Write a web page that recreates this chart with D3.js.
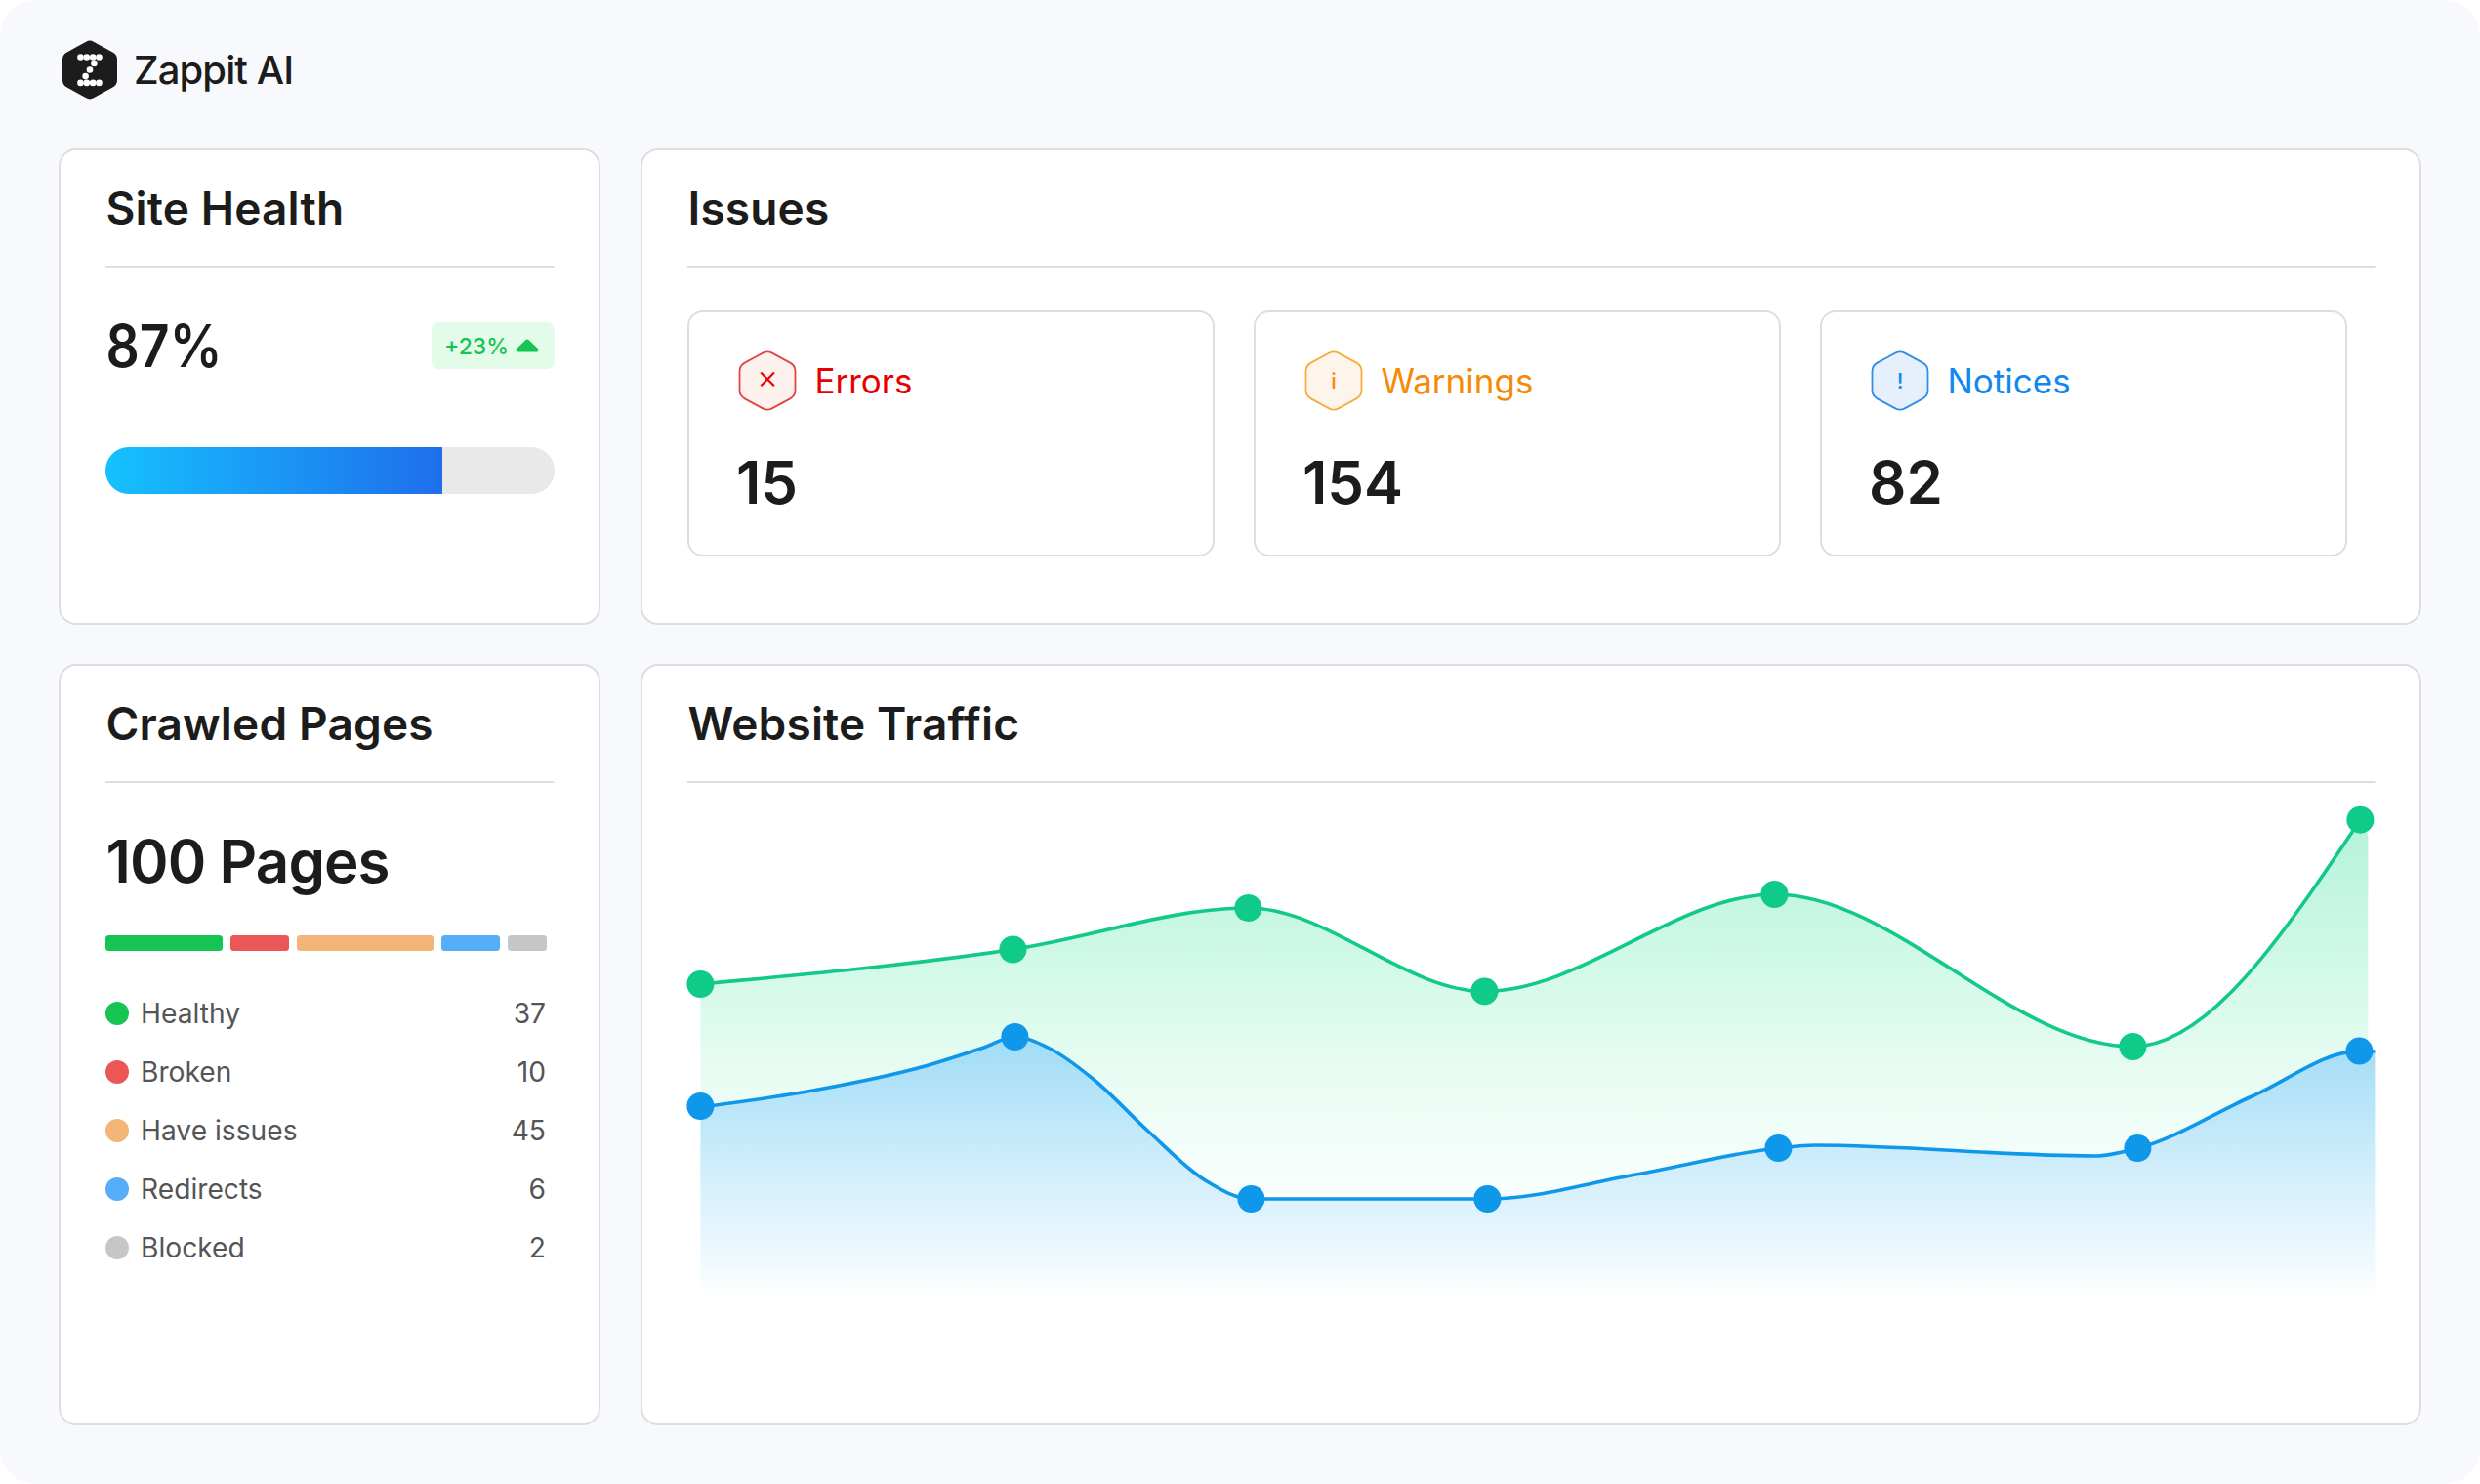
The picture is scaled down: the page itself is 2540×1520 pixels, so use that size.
<!DOCTYPE html>
<html>
<head>
<meta charset="utf-8">
<title>Zappit AI</title>
<script src="https://cdn.jsdelivr.net/npm/d3@7"></script>
<style>
  html, body { margin: 0; background: #fff; }
  svg { display: block; }
  text { font-family: Inter, sans-serif; fill: #1c1c1c; }
  .title { font-size: 46px; font-weight: 600; letter-spacing: 0.15px; }
  .big { font-size: 60px; font-weight: 600; }
</style>
</head>
<body>
<div id="chart"></div>
<script>
// site health
const healthLabel = "87%";
const healthChange = "+23%";
const healthBarValue = 75; // the bar is drawn shorter than the label says

// issues
const issueNames = ["Errors", "Warnings", "Notices"];
const issueCounts = [15, 154, 82];
const issueGlyphs = ["×", "i", "!"];

// crawled pages
const pageCategories = ["Healthy", "Broken", "Have issues", "Redirects", "Blocked"];
const pageCounts = [37, 10, 45, 6, 2];
const pageShares = [30, 15, 35, 15, 10]; // segment lengths as drawn
const pageColors = ["#16c454", "#eb5757", "#f2b577", "#56adf8", "#c6c6c6"];

// website traffic, the dots
const greenX = [0, 320, 561, 803, 1100, 1467, 1700];
const greenY = [315, 350.5, 393, 307.6, 407, 251, 483.3];
const blueX = [0, 322, 564, 806, 1104, 1472, 1699];
const blueY = [190, 261, 95, 95, 147, 147, 246.4];

// website traffic, the blue curve
const blueCurveX = [0, 115, 230, 290, 322, 356, 402, 459, 517, 564, 806, 958, 1104, 1141, 1428, 1472, 1589, 1699, 1715];
const blueCurveY = [189, 206, 231, 250, 261, 250, 218, 164, 114, 95, 95, 120, 147, 150, 139, 147, 200, 246.4, 246];

const width = 2540, height = 1520;
const ink = "#1c1c1c", line = "#dddee2";

const svg = d3.select("#chart").append("svg")
    .attr("width", width)
    .attr("height", height)
    .attr("viewBox", `0 0 ${width} ${height}`);
const defs = svg.append("defs");

svg.append("rect")
    .attr("width", width).attr("height", height)
    .attr("rx", 36)
    .attr("fill", "#f8f9fd");

// pointy-top hexagon with rounded corners
function hexPath(w, h, r) {
    const pts = [[0, -h / 2], [w / 2, -h / 4], [w / 2, h / 4], [0, h / 2], [-w / 2, h / 4], [-w / 2, -h / 4]];
    const p = d3.path();
    p.moveTo((pts[5][0] + pts[0][0]) / 2, (pts[5][1] + pts[0][1]) / 2);
    pts.forEach((pt, i) => {
        const next = pts[(i + 1) % 6];
        p.arcTo(pt[0], pt[1], next[0], next[1], r);
    });
    p.closePath();
    return p.toString();
}

function card(x, y, w, h, title) {
    svg.append("rect")
        .attr("x", x).attr("y", y).attr("width", w).attr("height", h)
        .attr("rx", 17)
        .attr("fill", "#fff")
        .attr("stroke", line)
        .attr("stroke-width", 2);
    svg.append("text")
        .attr("class", "title")
        .attr("x", x + 47.5)
        .attr("y", y + 76.5)
        .text(title);
    svg.append("line")
        .attr("x1", x + 47).attr("x2", x + w - 46.5)
        .attr("y1", y + 120).attr("y2", y + 120)
        .attr("stroke", line)
        .attr("stroke-width", 2);
}

// logo
const logo = svg.append("g").attr("transform", "translate(92,71.5)");
logo.append("path").attr("d", hexPath(56, 62, 8)).attr("fill", ink);
const logoDots = [[-9.5, -13], [-3.2, -13], [3.2, -13], [9.5, -13], [4.4, -6.6], [0, 0], [-4.4, 6.6], [-9.5, 13.4], [-3.2, 13.4], [3.2, 13.4], [9.5, 13.4]];
logo.selectAll("circle").data(logoDots).join("circle")
    .attr("cx", d => d[0]).attr("cy", d => d[1])
    .attr("r", 3.3)
    .attr("fill", "#fff");
svg.append("text")
    .attr("x", 137).attr("y", 86)
    .style("font-size", "40px").style("font-weight", 500)
    .style("letter-spacing", "-0.9px")
    .text("Zappit AI");

card(61, 153, 553, 486, "Site Health");
card(657, 153, 1822, 486, "Issues");
card(61, 681, 553, 778, "Crawled Pages");
card(657, 681, 1822, 778, "Website Traffic");

// site health
svg.append("text").attr("class", "big")
    .attr("x", 108.5).attr("y", 376)
    .attr("textLength", 119).attr("lengthAdjust", "spacingAndGlyphs")
    .text(healthLabel);
svg.append("rect")
    .attr("x", 442).attr("y", 330).attr("width", 126).attr("height", 48)
    .attr("rx", 8)
    .attr("fill", "#e3fbe9");
svg.append("text")
    .attr("x", 455).attr("y", 362.5)
    .style("font-size", "23px").style("font-weight", 500).style("fill", "#16c454")
    .text(healthChange);
svg.append("path")
    .attr("d", "M540,349.5 L549.5,358.5 L530.5,358.5 Z")
    .attr("fill", "#16c454")
    .attr("stroke", "#16c454")
    .attr("stroke-width", 4)
    .attr("stroke-linejoin", "round");

const healthX = d3.scaleLinear().domain([0, 100]).range([108, 568]);
const healthGrad = defs.append("linearGradient").attr("id", "healthGrad");
healthGrad.append("stop").attr("offset", 0).attr("stop-color", "#15c1fe");
healthGrad.append("stop").attr("offset", 1).attr("stop-color", "#1f6eec");
defs.append("clipPath").attr("id", "trackClip").append("rect")
    .attr("x", 108).attr("y", 458).attr("width", 460).attr("height", 48).attr("rx", 24);
const track = svg.append("g").attr("clip-path", "url(#trackClip)");
track.append("rect")
    .attr("x", healthX(0)).attr("y", 458)
    .attr("width", healthX(100) - healthX(0)).attr("height", 48)
    .attr("fill", "#e9e9e9");
track.append("rect")
    .attr("x", healthX(0)).attr("y", 458)
    .attr("width", healthX(healthBarValue) - healthX(0)).attr("height", 48)
    .attr("fill", "url(#healthGrad)");

// issues
const issueColors = ["#e80000", "#f58a07", "#1287ee"];
const issueFills = ["#fcf1ec", "#fdf4ec", "#e6effc"];
const issueEdges = ["#e04545", "#f5ad3c", "#2f8fe8"];
const issueBand = d3.scaleBand().domain(issueNames).range([705, 2445]).paddingInner(0).paddingOuter(0);
const issue = svg.selectAll(".issue").data(issueNames).join("g")
    .attr("class", "issue")
    .attr("transform", d => `translate(${issueBand(d)},319)`);
issue.append("rect")
    .attr("width", 538).attr("height", 250)
    .attr("rx", 15)
    .attr("fill", "#fff")
    .attr("stroke", line)
    .attr("stroke-width", 2);
issue.append("path")
    .attr("transform", "translate(81,71)")
    .attr("d", hexPath(57, 62, 10))
    .attr("fill", (d, i) => issueFills[i])
    .attr("stroke", (d, i) => issueEdges[i])
    .attr("stroke-width", 1.8);
issue.append("text")
    .attr("x", 81).attr("y", 79)
    .attr("text-anchor", "middle")
    .style("font-size", (d, i) => i === 0 ? "34px" : "22px")
    .style("font-weight", (d, i) => i === 0 ? 300 : 500)
    .style("fill", (d, i) => issueColors[i])
    .text((d, i) => issueGlyphs[i]);
issue.append("text")
    .attr("x", 129.5).attr("y", 84)
    .style("font-size", "35px")
    .style("fill", (d, i) => issueColors[i])
    .text(d => d);
issue.append("text")
    .attr("class", "big")
    .attr("x", 49).attr("y", 197)
    .text((d, i) => issueCounts[i]);

// crawled pages
svg.append("text").attr("class", "big")
    .attr("x", 108.5).attr("y", 904)
    .style("letter-spacing", "-0.9px")
    .text("100 Pages");

const gap = 2;
const shareX = d3.scaleLinear()
    .domain([0, d3.sum(pageShares) + gap * pageShares.length])
    .range([108, 568]);
let used = 0;
const segments = pageShares.map(s => {
    const seg = { start: used, end: used + s };
    used += s + gap;
    return seg;
});
svg.selectAll(".segment").data(segments).join("rect")
    .attr("class", "segment")
    .attr("x", d => shareX(d.start))
    .attr("y", 958)
    .attr("width", d => shareX(d.end) - shareX(d.start))
    .attr("height", 16)
    .attr("rx", 3.5)
    .attr("fill", (d, i) => pageColors[i]);

const legendY = d3.scalePoint().domain(pageCategories).range([1038, 1278]);
const legend = svg.selectAll(".legend").data(pageCategories).join("g")
    .attr("class", "legend")
    .attr("transform", d => `translate(0,${legendY(d)})`);
legend.append("circle")
    .attr("cx", 120).attr("r", 12)
    .attr("fill", (d, i) => pageColors[i]);
legend.append("text")
    .attr("x", 144).attr("y", 9.5)
    .style("font-size", "28.2px").style("fill", "#555558")
    .text(d => d);
legend.append("text")
    .attr("x", 559).attr("y", 9.5)
    .attr("text-anchor", "end")
    .style("font-size", "28.2px").style("fill", "#555558")
    .text((d, i) => pageCounts[i]);

// website traffic
const xScale = d3.scaleLinear().domain([0, 1700]).range([717.4, 2417.4]);
const yScale = d3.scaleLinear().domain([0, 500]).range([1323, 823]);

function gradient(id, stops) {
    const g = defs.append("linearGradient")
        .attr("id", id)
        .attr("gradientUnits", "userSpaceOnUse")
        .attr("x1", 0).attr("x2", 0)
        .attr("y1", stops[0][0]).attr("y2", stops[stops.length - 1][0]);
    const span = stops[stops.length - 1][0] - stops[0][0];
    stops.forEach(s => g.append("stop")
        .attr("offset", (s[0] - stops[0][0]) / span)
        .attr("stop-color", s[1]));
}
gradient("greenFill", [[850, "#b6f3dc"], [1000, "#d4fae9"], [1100, "#e8fcf3"], [1200, "#f6fefb"], [1290, "#ffffff"]]);
gradient("blueFill", [[1062, "#9fdcf7"], [1200, "#d2eefb"], [1295, "#f0fafe"], [1326, "#ffffff"]]);

const smooth = d3.line()
    .x(d => xScale(d[0]))
    .y(d => yScale(d[1]))
    .curve(d3.curveMonotoneX);
const blueArea = d3.area()
    .x(d => xScale(d[0]))
    .y0(yScale(0))
    .y1(d => yScale(d[1]))
    .curve(d3.curveMonotoneX);

const greenPoints = d3.zip(greenX, greenY);
const bluePoints = d3.zip(blueX, blueY);
const blueCurve = d3.zip(blueCurveX, blueCurveY);

// the green fill runs on a little past the last dot, then drops straight down
const greenD = smooth(greenPoints);
svg.append("path")
    .attr("d", `${greenD}L${xScale(1708)},${yScale(468)}L${xScale(1708)},${yScale(0)}L${xScale(0)},${yScale(0)}Z`)
    .attr("fill", "url(#greenFill)");
svg.append("path").attr("d", blueArea(blueCurve)).attr("fill", "url(#blueFill)");

svg.append("path").attr("d", greenD)
    .attr("fill", "none").attr("stroke", "#12c98a").attr("stroke-width", 3.6);
svg.append("path").attr("d", smooth(blueCurve))
    .attr("fill", "none").attr("stroke", "#0f98ea").attr("stroke-width", 3.6);

svg.selectAll(".green-dot").data(greenPoints).join("circle")
    .attr("class", "green-dot")
    .attr("cx", d => xScale(d[0])).attr("cy", d => yScale(d[1]))
    .attr("r", 14)
    .attr("fill", "#0fca88");
svg.selectAll(".blue-dot").data(bluePoints).join("circle")
    .attr("class", "blue-dot")
    .attr("cx", d => xScale(d[0])).attr("cy", d => yScale(d[1]))
    .attr("r", 14)
    .attr("fill", "#0f98ea");
</script>
</body>
</html>
